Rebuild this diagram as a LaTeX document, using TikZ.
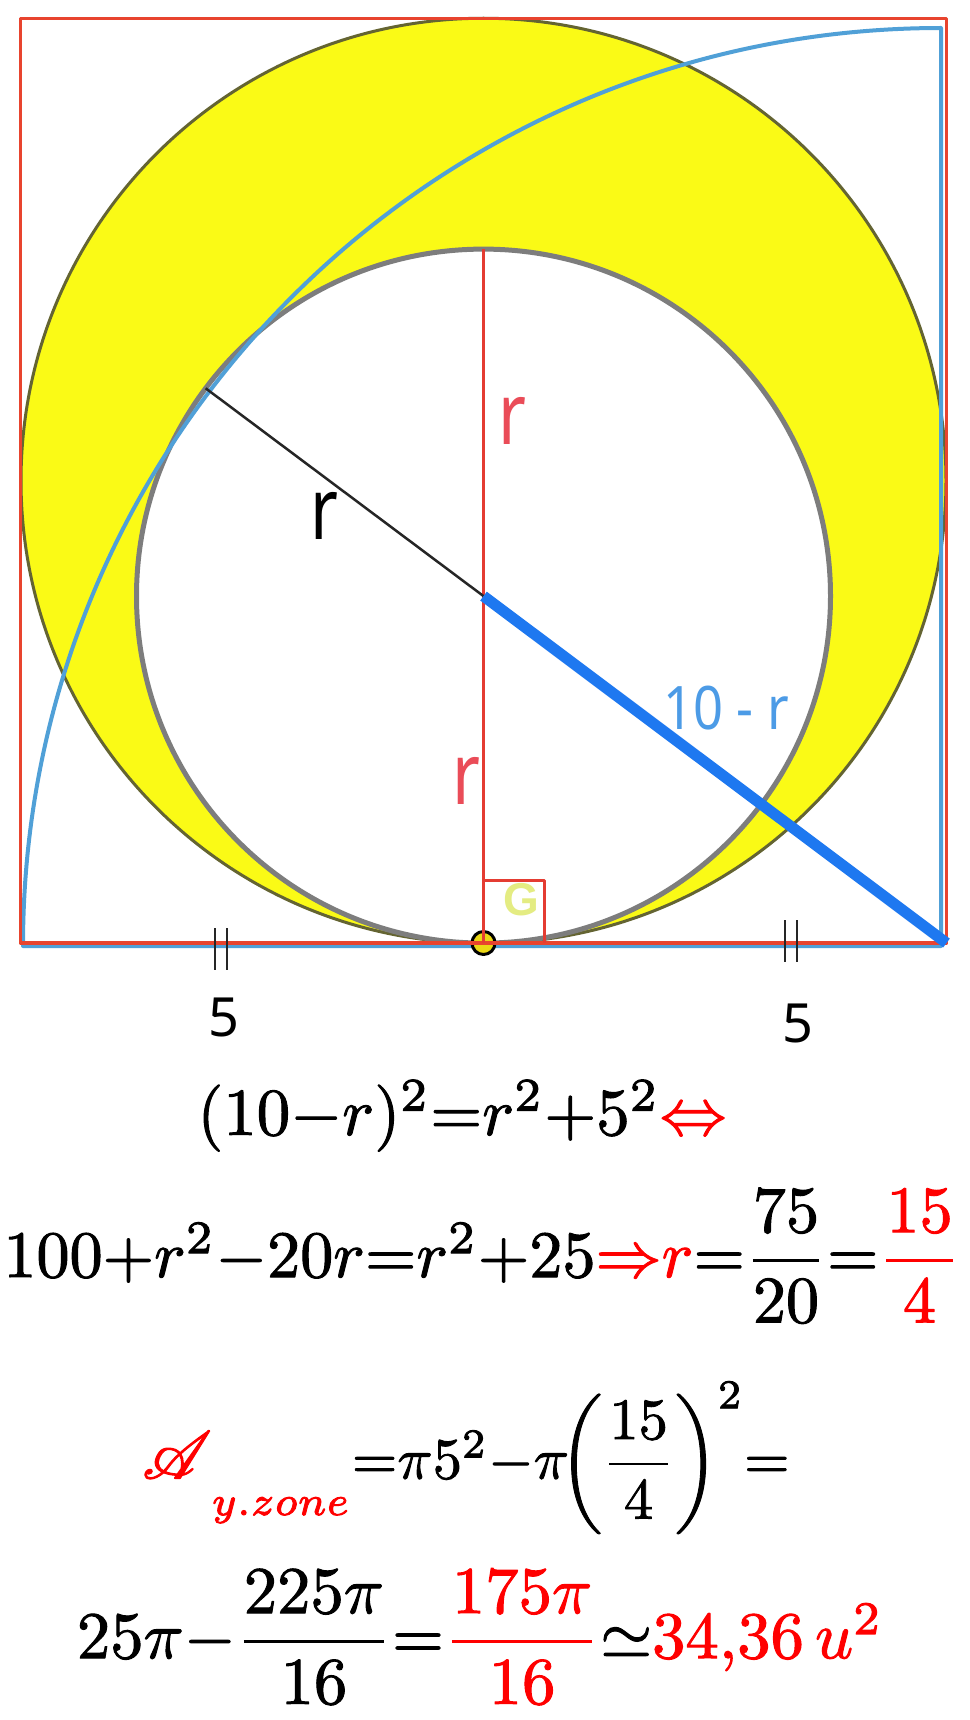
\documentclass[tikz,border=0pt]{standalone}
\usepackage{fontspec}
\usepackage{amsmath,mathrsfs}
\usepackage{graphicx}
\newfontfamily\labfont{Noto Sans}
\newfontfamily\gfont{Liberation Sans}
\definecolor{sqred}{RGB}{232,68,46}
\definecolor{vred}{RGB}{228,60,50}
\definecolor{rlabred}{RGB}{234,76,88}
\definecolor{arcblue}{RGB}{80,160,215}
\definecolor{thickblue}{RGB}{30,120,240}
\definecolor{lblue}{RGB}{76,155,230}
\definecolor{yfill}{RGB}{250,250,22}
\definecolor{olive}{RGB}{100,100,50}
\definecolor{cgray}{RGB}{125,125,125}
\definecolor{gyellow}{RGB}{228,236,130}
\definecolor{dotyellow}{RGB}{235,215,20}
\tikzset{
  sqline/.style={draw=sqred, line width=3.5pt},
  rlab/.style={text=rlabred, inner sep=0pt},
  eqnode/.style={inner sep=0pt},
  tick/.style={draw=black!85, line width=2.8pt},
}
\newcommand\rtxt{\scalebox{0.9}[1.15]{\fontsize{75}{80}\labfont r}}
\newcommand\heavy[1]{\special{pdf:literal direct 2 Tr 0.15 w}#1\special{pdf:literal direct 0 Tr}}
\begin{document}
\begin{tikzpicture}[x=1pt,y=-1pt,line join=round]
\useasboundingbox (0,0) rectangle (969,1720);
\fill[white] (0,0) rectangle (969,1720);
% key points
\coordinate (BL) at (20.5,943);
\coordinate (TR) at (946.5,18.5);
\coordinate (O) at (483.5,480.75);
\coordinate (C) at (483.5,596.1);
\coordinate (M) at (483.5,943);
\coordinate (Ctop) at (483.5,249);
\coordinate (T) at (205.7,388.3);
\coordinate (Q) at (946.5,943);
\coordinate (BC) at (941,946);
% big yellow circle
\draw[fill=yfill, draw=olive, line width=3pt] (O) circle[radius=462.5];
% small circle
\draw[fill=white, draw=cgray, line width=5pt] (C) circle[radius=347];
% blue quarter circle
\draw[draw=arcblue, line width=4pt] (BC) ++(-918,0) arc[start angle=180, end angle=270, radius=918] -- (BC) -- cycle;
% dot
\draw[fill=dotyellow, draw=black, line width=3pt] (M) circle[radius=11.5];
% red square
\draw[sqline] (BL) rectangle (TR);
% red vertical
\draw[draw=vred, line width=3pt] (M) -- (Ctop);
% right angle
\draw[draw=vred, line width=3pt] (485,880) coordinate (ra1) -- (544,880) coordinate (ra2) -- (544,943) coordinate (ra3);
\node[text=gyellow, inner sep=0pt] (G) at (521,900) {\fontsize{46}{48}\gfont\bfseries G};
% black radius
\draw[black!85, line width=2.5pt] (C) -- (T);
% thick blue
\draw[thickblue, line width=11pt] (C) -- (Q);
% ticks
\draw[tick] (215,928) -- (215,970);
\draw[tick] (227,928) -- (227,970);
\draw[tick] (785,920) -- (785,962);
\draw[tick] (797,920) -- (797,962);
% labels
\node[inner sep=0pt] (five1) at (224,1017) {\fontsize{54}{60}\labfont 5};
\node[inner sep=0pt] (five2) at (798,1023) {\fontsize{54}{60}\labfont 5};
\node[rlab] (r1) at (512,421) {\rtxt};
\node[rlab] (r2) at (466,781) {\rtxt};
\node[inner sep=0pt, text=black] (r3) at (324,516) {\rtxt};
\node[inner sep=0pt, text=lblue] (tenr) at (726,708) {\scalebox{1.05}[1.2]{\fontsize{50}{55}\labfont 10 - r}};
% equations
\node[eqnode] (eq1) at (462,1116) {\resizebox{529pt}{!}{\heavy{$(10{-}r)^2{=}r^2{+}5^2\textcolor{red}{\Leftrightarrow}$}}};
\node[eqnode] (eq2) at (482,1256) {\resizebox{957pt}{!}{\heavy{$100{+}r^2{-}20r{=}r^2{+}25\textcolor{red}{{\Rightarrow}r}{=}\dfrac{75}{20}{=}\textcolor{red}{\dfrac{15}{4}}$}}};
\node[eqnode] (eq3) at (466,1458) {\resizebox{647pt}{!}{\heavy{$\textcolor{red}{\mathord{\scalebox{1.15}{$\mathscr{A}$}}_{\raisebox{-1.1ex}{$\scriptstyle y.zone$}}}{=}\pi5^2{-}\pi\!{\left(\dfrac{15}{4}\right)}^2{=}$}}};
\node[eqnode] (eq4) at (480,1637) {\resizebox{806pt}{!}{\heavy{$25\pi{-}\dfrac{225\pi}{16}{=}\textcolor{red}{\dfrac{175\pi}{16}}{\simeq}\textcolor{red}{34{,}36\,u^2}$}}};
\end{tikzpicture}
\end{document}
